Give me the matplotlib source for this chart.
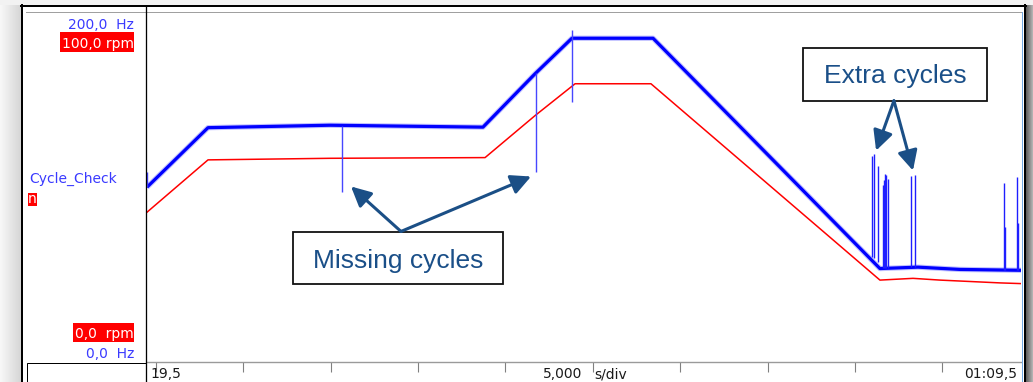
import numpy as np
import matplotlib
matplotlib.use("Agg")
import matplotlib.pyplot as plt
from matplotlib.patches import Rectangle, FancyArrowPatch
from matplotlib.colors import LinearSegmentedColormap

# ---- recording window ------------------------------------------------------
t_start, t_end, t_div = 19.5, 69.5, 5.0          # s
hz_min, hz_max = 0.0, 200.0                       # Cycle_Check scale
rpm_min, rpm_max = 0.0, 100.0                     # n scale

# Cycle_Check (frequency) trace, breakpoints [s], [Hz]
freq_t = [19.5, 22.99, 29.97, 38.72, 41.70, 43.81,
          48.45, 61.43, 63.61, 66.01, 69.5]
freq_hz = [99.9, 133.9, 135.3, 134.2, 164.7, 185.0,
           185.0, 53.4, 54.2, 52.9, 52.4]

# n (speed) trace, breakpoints [s], [rpm]
speed_t = [19.5, 22.99, 29.97, 38.84, 41.70, 43.99, 48.33,
           61.43, 63.32, 64.87, 68.30, 69.5]
speed_rpm = [42.8, 57.75, 58.2, 58.4, 70.4, 79.5, 79.5,
             23.4, 23.9, 23.4, 22.6, 22.4]

# Cycle_Check glitches: time [s], lower / upper end [Hz]
missing_t = [19.52, 30.64, 41.75, 43.81]
missing_lo = [99.9, 97.4, 108.3, 148.3]
missing_hi = [108.3, 134.8, 165.2, 189.5]

extra_t = [60.96, 61.11, 61.30, 61.62, 61.67, 61.72, 61.79, 61.87,
           63.19, 63.42, 68.53, 68.57, 69.29, 69.33]
extra_lo = [60.0, 59.3, 57.0, 53.6, 53.6, 53.6, 53.6, 53.6,
            54.2, 54.2, 52.6, 52.6, 52.4, 52.4]
extra_hi = [117.9, 118.9, 112.2, 100.9, 104.0, 107.5, 106.6, 104.7,
            106.0, 106.6, 102.2, 77.1, 105.6, 79.2]

# annotation targets [s], [Hz]
miss_from = (34.03, 74.6)
miss_to = [(31.17, 100.3), (41.47, 106.0)]
extra_from = (62.23, 149.3)
extra_to = [(61.21, 120.8), (63.32, 109.4)]


def dec(v, nd=1):
    return f"{v:.{nd}f}".replace(".", ",")


def clock(v):
    m = int(v // 60)
    return f"{m:02d}:{v - 60 * m:04.1f}".replace(".", ",")


W, H = 1033, 382
fig = plt.figure(figsize=(W / 100, H / 100), dpi=100, facecolor="#f2f2f2")

# ---- window background -----------------------------------------------------
bg = fig.add_axes([0, 0, 1, 1])
bg.set_zorder(0)
bg.axis("off")
bg.add_patch(Rectangle((22, 6), 1003, 376, facecolor="white", edgecolor="none"))
gl = LinearSegmentedColormap.from_list("gl", ["#f8f8f8", "#d6d6d6"])
gr = LinearSegmentedColormap.from_list("gr", ["#5c5c5c", "#c4c4c4"])
ramp = np.linspace(0, 1, 32).reshape(1, -1)
bg.imshow(ramp, extent=(0, 21, H, 5), cmap=gl, aspect="auto")
bg.imshow(ramp, extent=(1025.5, W, H, 5), cmap=gr, aspect="auto")
bg.set_xlim(0, W)
bg.set_ylim(H, 0)

# ---- plot area -------------------------------------------------------------
x0, x1, y0, y1 = 147, 1021, 12, 362
ax2 = fig.add_axes([x0 / W, (H - y1) / H, (x1 - x0) / W, (y1 - y0) / H])
ax2.patch.set_visible(False)
ax = ax2.twinx()
ax.set_zorder(ax2.get_zorder() + 1)
ax.patch.set_visible(False)

ax2.set_xlim(t_start, t_end)
ax2.set_ylim(rpm_min, rpm_max)
ax.set_ylim(hz_min, hz_max)

ax2.plot(speed_t, speed_rpm, color="#ff0000", lw=1.1, solid_joinstyle="round")

ax.plot(freq_t, freq_hz, color="#3030ff", lw=3.8, alpha=0.3,
        solid_joinstyle="round", solid_capstyle="butt")
ax.plot(freq_t, freq_hz, color="#0000ff", lw=2.3, solid_joinstyle="round",
        solid_capstyle="butt")
ax.vlines(missing_t, missing_lo, missing_hi, color="#4646ff", lw=1.0)
ax.vlines(extra_t, extra_lo, extra_hi, color="#1f1fff", lw=1.0)

for a in (ax, ax2):
    for s in a.spines.values():
        s.set_visible(False)
    a.set_yticks([])
ax2.spines["bottom"].set_visible(True)
ax2.spines["bottom"].set_color("#9a9a9a")
ax2.spines["bottom"].set_linewidth(1.0)
ax2.set_xticks(np.arange(t_start + 0.5, t_end - 4, t_div))
ax2.tick_params(axis="x", direction="out", length=7.5, width=0.8,
                color="#808080", labelbottom=False)

lab = dict(fontsize=10, color="#1a1a1a", family="DejaVu Sans",
           xycoords="axes fraction", textcoords="offset pixels", va="baseline")
ax2.annotate(dec(t_start), xy=(0, 0), xytext=(3, -16), ha="left", **lab)
ax2.annotate(dec(t_div, 3), xy=(0.5, 0), xytext=(-1.5, -16), ha="right", **lab)
ax2.annotate("s/div", xy=(0.5, 0), xytext=(10.5, -16), ha="left", **lab)
ax2.annotate(clock(t_end), xy=(1, 0), xytext=(-4, -16), ha="right", **lab)

# ---- callouts ----------------------------------------------------------------
note_col = "#1a4f88"
arrow_col = "#1b4f86"


def callout(x_lo, x_hi, y_lo, y_hi, y_base, text):
    ax.add_patch(Rectangle((x_lo, y_lo), x_hi - x_lo, y_hi - y_lo,
                           transform=ax.transAxes, facecolor="white",
                           edgecolor="#111111", lw=1.3, zorder=6))
    ax.text((x_lo + x_hi) / 2, y_base, text, transform=ax.transAxes,
            ha="center", va="baseline", fontsize=19, color=note_col,
            family="Liberation Sans", zorder=7)


def arrow(p, q):
    ax.add_patch(FancyArrowPatch(p, q, transform=ax.transData,
                                 arrowstyle="-|>,head_length=1.2,head_width=0.6",
                                 mutation_scale=10, lw=2.2, color=arrow_col,
                                 shrinkA=0, shrinkB=0, zorder=8))


callout(0.167, 0.407, 0.222, 0.370, 0.268, "Missing cycles")
callout(0.7506, 0.961, 0.746, 0.897, 0.796, "Extra cycles")
for q in miss_to:
    arrow(miss_from, q)
for q in extra_to:
    arrow(extra_from, q)

# ---- frame and channel panel -------------------------------------------------
fr = fig.add_axes([0, 0, 1, 1])
fr.set_zorder(10)
fr.axis("off")
fr.patch.set_visible(False)
fr.set_xlim(0, W)
fr.set_ylim(H, 0)

px = 0.72
fr.plot([21.5, 21.5], [5, H], color="black", lw=2 * px)
fr.plot([21, 1025.5], [6, 6], color="black", lw=2 * px)
fr.plot([1024.5, 1024.5], [5, H], color="black", lw=2 * px)
fr.plot([1021.5, 1021.5], [12, H], color="#72a9e2", lw=px)
fr.plot([26, 1021], [11.5, 11.5], color="#a0a0a0", lw=px)
fr.plot([146, 146], [6, H], color="black", lw=1.3 * px)
fr.add_patch(Rectangle((26.5, 362.5), 119.5, 19, facecolor="none",
                       edgecolor="black", lw=px))

blue_txt = "#3a3aff"
panel = dict(fontsize=10, family="DejaVu Sans", va="baseline")
fr.text(134, 29, f"{dec(hz_max)}  Hz", ha="right", color=blue_txt, **panel)
fr.add_patch(Rectangle((60, 32.3), 74.3, 20, facecolor="#ff0000", edgecolor="none"))
fr.text(133.5, 48.3, f"{dec(rpm_max)} rpm", ha="right", color="white", **panel)
fr.text(29, 183, "Cycle_Check", ha="left", color=blue_txt, **panel)
fr.add_patch(Rectangle((28.3, 193.3), 8.4, 12.7, facecolor="#ff0000", edgecolor="none"))
fr.text(32.5, 203.3, "n", ha="center", color="white", **panel)
fr.add_patch(Rectangle((72.7, 322.7), 61.6, 19, facecolor="#ff0000", edgecolor="none"))
fr.text(133.5, 337.7, f"{dec(rpm_min)}  rpm", ha="right", color="white", **panel)
fr.text(134, 358.3, f"{dec(hz_min)}  Hz", ha="right", color=blue_txt, **panel)

fig.savefig("out.png", dpi=100, facecolor=fig.get_facecolor())
